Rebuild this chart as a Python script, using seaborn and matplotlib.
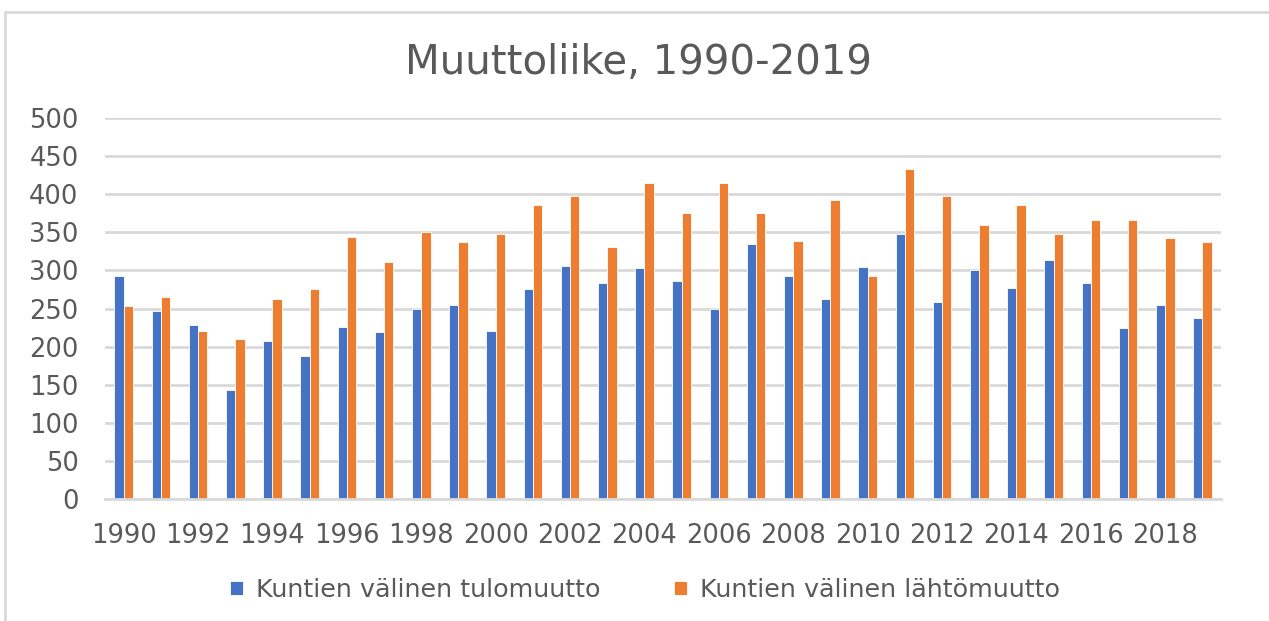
import matplotlib
matplotlib.use("Agg")
import matplotlib.pyplot as plt
from matplotlib.lines import Line2D
import seaborn as sns
import pandas as pd

years = list(range(1990, 2020))
tulomuutto = [292, 247, 228, 143, 207, 188, 226, 219, 250, 254,
              221, 275, 306, 284, 303, 286, 250, 335, 293, 262,
              304, 348, 259, 300, 277, 313, 283, 225, 254, 237]
lahtomuutto = [253, 265, 221, 210, 263, 275, 344, 311, 351, 337,
               348, 386, 397, 331, 415, 375, 415, 375, 338, 393,
               293, 433, 398, 359, 386, 348, 366, 366, 342, 337]
series_names = ["Kuntien välinen tulomuutto", "Kuntien välinen lähtömuutto"]
colors = ["#4472C4", "#ED7D31"]
title = "Muuttoliike, 1990-2019"
yticks = [0, 50, 100, 150, 200, 250, 300, 350, 400, 450, 500]

df = pd.DataFrame({
    "Vuosi": [str(y) for y in years] * 2,
    "Arvo": tulomuutto + lahtomuutto,
    "Sarja": [series_names[0]] * len(years) + [series_names[1]] * len(years),
})

sns.set_theme(style="white")
plt.rcParams["font.family"] = ["DejaVu Sans"]
text_color = "#595959"

fig = plt.figure(figsize=(12.69, 6.21), dpi=100)
ax = fig.add_axes([105 / 1269, 1 - 499 / 621, (1221 - 105) / 1269, (499 - 118) / 621])

sns.barplot(data=df, x="Vuosi", y="Arvo", hue="Sarja", order=[str(y) for y in years],
            hue_order=series_names, palette=colors, saturation=1, width=0.5, ax=ax,
            edgecolor="white", linewidth=0.6, legend=True)

ax.set_ylim(0, 500)
ax.set_xlim(-0.5, len(years) - 0.5)
ax.set_yticks(yticks)
ax.set_yticklabels([str(v) for v in yticks])
idx = list(range(0, len(years), 2))
ax.set_xticks(idx)
ax.set_xticklabels([str(years[i]) for i in idx])
ax.tick_params(axis="both", length=0, labelsize=18.5, colors=text_color)
ax.tick_params(axis="y", pad=19)
ax.tick_params(axis="x", pad=17)
ax.set_xlabel("")
ax.set_ylabel("")
ax.grid(axis="y", color="#D9D9D9", linewidth=2)
ax.set_axisbelow(True)
for s in ["top", "right", "left"]:
    ax.spines[s].set_visible(False)
ax.spines["bottom"].set_color("#D9D9D9")
ax.spines["bottom"].set_linewidth(2)

fig.text(639 / 1269, 1 - 63 / 621, title, ha="center", va="center",
         fontsize=29, color=text_color)

handles, labels = ax.get_legend_handles_labels()
ax.legend_.remove()
fig.legend(handles, labels, loc="center", bbox_to_anchor=(645 / 1269, 1 - 590 / 621),
           ncol=2, frameon=False, fontsize=18.3, labelcolor=text_color,
           handlelength=0.5, handleheight=0.5, handletextpad=0.5, columnspacing=2.9)

fig.add_artist(Line2D([5 / 1269, 5 / 1269], [0, 1 - 12 / 621], transform=fig.transFigure,
                      color="#D9D9D9", linewidth=2))
fig.add_artist(Line2D([5 / 1269, 1], [1 - 12 / 621, 1 - 12 / 621], transform=fig.transFigure,
                      color="#D9D9D9", linewidth=2))

fig.savefig("out.png", dpi=100, facecolor="white")
